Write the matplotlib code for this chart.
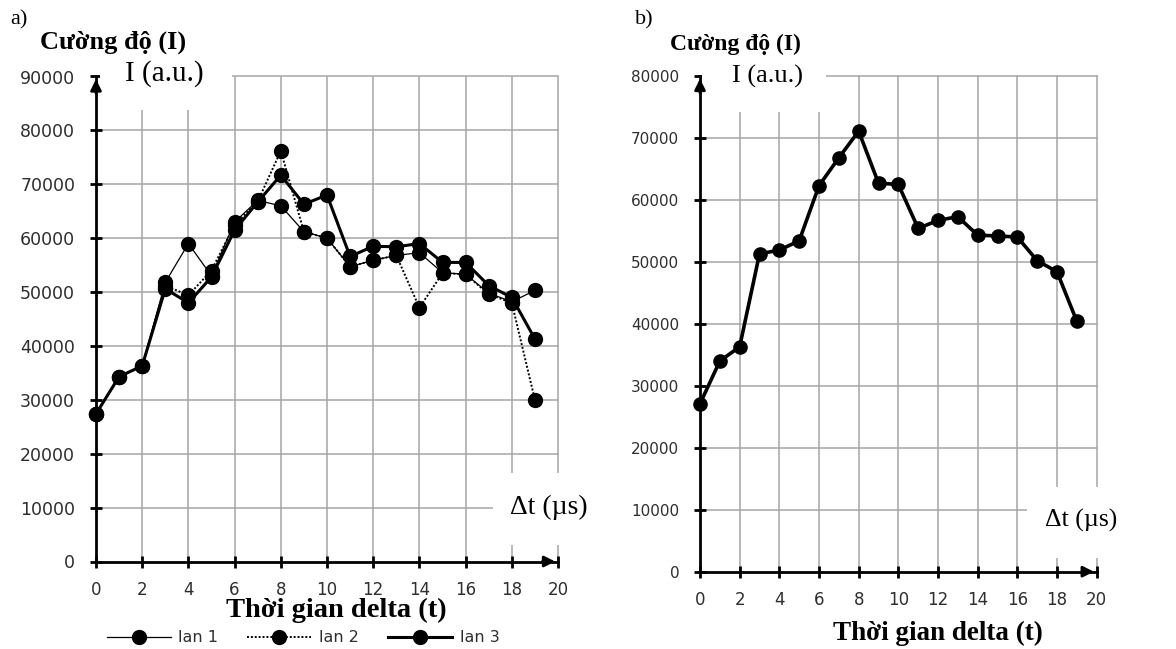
import matplotlib
matplotlib.use("Agg")
import matplotlib.pyplot as plt
from matplotlib.patches import Rectangle

# ---------------- data ----------------
time = [0, 1, 2, 3, 4, 5, 6, 7, 8, 9, 10, 11, 12, 13, 14, 15, 16, 17, 18, 19]
lan1 = [27400, 34300, 36300, 51800, 59000, 53000, 63000, 67000, 66000, 61200,
        60000, 54700, 55900, 56800, 57300, 53600, 53300, 49800, 48200, 50300]
lan2 = [27400, 34300, 36300, 51200, 49400, 54000, 62500, 66800, 76200, 61200,
        60000, 54700, 55900, 56800, 47100, 53500, 53300, 49600, 48000, 30000]
lan3 = [27400, 34300, 36300, 50600, 48000, 52800, 61500, 66700, 71700, 66300,
        68000, 56600, 58500, 58400, 59000, 55500, 55500, 51200, 49000, 41300]
avg = [27100, 34000, 36300, 51300, 51900, 53400, 62300, 66800, 71100, 62700,
       62500, 55400, 56700, 57300, 54300, 54200, 54000, 50200, 48400, 40400]

series_labels = ["lan 1", "lan 2", "lan 3"]
x_ticks = [0, 2, 4, 6, 8, 10, 12, 14, 16, 18, 20]
y_ticks_a = [0, 10000, 20000, 30000, 40000, 50000, 60000, 70000, 80000, 90000]
y_ticks_b = [0, 10000, 20000, 30000, 40000, 50000, 60000, 70000, 80000]

ylabel_top = "Cường độ (I)"
ylabel_unit = "I (a.u.)"
xlabel_unit = "Δt (µs)"
xlabel_main = "Thời gian delta (t)"

W, H = 1176, 649
fig = plt.figure(figsize=(W / 100, H / 100), dpi=100)
fig.patch.set_facecolor("white")

SERIF = ["Liberation Serif", "DejaVu Serif"]
SANS = ["DejaVu Sans"]
TICKCOL = "#2e2e2e"
GRIDCOL = "#a6a6a6"


def fx(px):
    return px / W


def fy(py):
    return 1 - py / H


def setup_axes(ax, ymax, yticks, ytick_fs, xtick_fs, unit_box, dt_box):
    ax.set_xlim(0, 20)
    ax.set_ylim(0, ymax)
    for s in ["top", "right"]:
        ax.spines[s].set_visible(False)
    for s in ["left", "bottom"]:
        ax.spines[s].set_linewidth(2.0)
        ax.spines[s].set_color("black")
        ax.spines[s].set_zorder(5)
    ax.set_xticks(x_ticks)
    ax.set_yticks(yticks)
    ax.set_yticklabels([str(v) for v in yticks])
    ax.tick_params(axis="both", direction="inout", length=8, width=2,
                   colors="black", labelcolor=TICKCOL)
    ax.tick_params(axis="y", pad=11, labelsize=ytick_fs)
    ax.tick_params(axis="x", pad=10, labelsize=xtick_fs)
    for lab in ax.get_xticklabels() + ax.get_yticklabels():
        lab.set_family(SANS)
    # manual grid
    for v in yticks[1:]:
        ax.axhline(v, color=GRIDCOL, lw=1.1, zorder=1, clip_on=False)
    for v in x_ticks[1:]:
        ax.axvline(v, color=GRIDCOL, lw=1.1, zorder=1, clip_on=False)
    # white boxes behind axis labels
    for (x0, y0, x1, y1) in (unit_box, dt_box):
        ax.add_patch(Rectangle((x0, y0), x1 - x0, y1 - y0,
                               transform=ax.transAxes, facecolor="white",
                               edgecolor="none", zorder=2, clip_on=False))
    # arrows
    ax.annotate("", xy=(0, 1.0), xytext=(0, 0.96), xycoords="axes fraction",
                arrowprops=dict(arrowstyle="-|>", color="black", lw=2,
                                mutation_scale=16), zorder=6)
    ax.annotate("", xy=(1.0, 0), xytext=(0.96, 0), xycoords="axes fraction",
                arrowprops=dict(arrowstyle="-|>", color="black", lw=2,
                                mutation_scale=16), zorder=6)


# ---------------- panel a ----------------
axa = fig.add_axes([fx(96), fy(561.5), fx(558 - 96), (561.5 - 76.5) / H])
setup_axes(axa, 90000, y_ticks_a, 12.5, 12,
           unit_box=(0.009, 0.931, 0.294, 1.04),
           dt_box=(0.859, 0.034, 1.10, 0.182))

la1, = axa.plot(time, lan1, color="black", lw=0.9, marker="o", ms=10,
                zorder=4, clip_on=False, label=series_labels[0])
la2, = axa.plot(time, lan2, color="black", lw=1.4, ls=(0, (1, 1)),
                marker="o", ms=10, zorder=4, clip_on=False,
                label=series_labels[1])
la3, = axa.plot(time, lan3, color="black", lw=2.2, marker="o", ms=10,
                zorder=4, clip_on=False, label=series_labels[2])

fig.text(fx(10), fy(20), "a)", family=SERIF, fontsize=16, va="center",
         ha="left")
fig.text(fx(40), fy(42), ylabel_top, family=SERIF, fontweight="bold",
         fontsize=19, va="center", ha="left")
fig.text(fx(125), fy(74), ylabel_unit, family=SERIF, fontsize=21,
         va="center", ha="left")
fig.text(fx(510), fy(507), xlabel_unit, family=SERIF, fontsize=20,
         va="center", ha="left")
fig.text(fx(336), fy(610), xlabel_main, family=SERIF, fontweight="bold",
         fontsize=20.5, va="center", ha="center")

leg = fig.legend(handles=[la1, la2, la3], loc="center", ncol=3,
                 bbox_to_anchor=(fx(303), fy(638)), frameon=False,
                 handlelength=4.0, columnspacing=1.8, handletextpad=0.5,
                 prop=dict(family=SANS, size=11.5), borderpad=0)
for t in leg.get_texts():
    t.set_color(TICKCOL)

# ---------------- panel b ----------------
axb = fig.add_axes([fx(700), fy(571.7), fx(1096.7 - 700), (571.7 - 76) / H])
setup_axes(axb, 80000, y_ticks_b, 11, 12,
           unit_box=(0.005, 0.927, 0.318, 1.04),
           dt_box=(0.824, 0.028, 1.10, 0.171))
axb.plot(time, avg, color="black", lw=2.6, marker="o", ms=9.5, zorder=4,
         clip_on=False)

fig.text(fx(635), fy(20), "b)", family=SERIF, fontsize=16, va="center",
         ha="left")
fig.text(fx(670), fy(44), ylabel_top, family=SERIF, fontweight="bold",
         fontsize=17, va="center", ha="left")
fig.text(fx(732), fy(76), ylabel_unit, family=SERIF, fontsize=19,
         va="center", ha="left")
fig.text(fx(1045), fy(520), xlabel_unit, family=SERIF, fontsize=18.5,
         va="center", ha="left")
fig.text(fx(938), fy(633), xlabel_main, family=SERIF, fontweight="bold",
         fontsize=19.5, va="center", ha="center")

fig.savefig("out.png", dpi=100, facecolor="white")
